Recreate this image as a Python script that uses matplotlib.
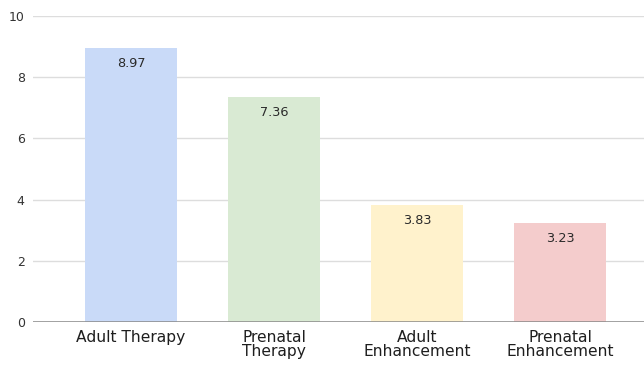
import matplotlib
matplotlib.use("Agg")
import matplotlib.pyplot as plt

categories = ["Adult Therapy", "Prenatal\nTherapy", "Adult\nEnhancement", "Prenatal\nEnhancement"]
values = [8.97, 7.36, 3.83, 3.23]
colors = ["#c9daf8", "#d9ead3", "#fff2cc", "#f4cccc"]
yticks = [0, 2, 4, 6, 8, 10]

plt.rcParams["font.family"] = ["DejaVu Sans"]

fig = plt.figure(figsize=(6.44, 3.67), dpi=100)
ax = fig.add_axes([0.0512, 0.1226, 0.9705, 0.8337])

x = list(range(len(categories)))
bars = ax.bar(x, values, width=0.645, color=colors, zorder=2)

for xi, v in zip(x, values):
    ax.annotate(f"{v:.2f}", (xi, v), xytext=(0, -6.5), textcoords="offset points",
                ha="center", va="top", fontsize=9.3, color="#2a2a2a", zorder=3)

ax.set_xlim(-0.685, 3.685)
ax.set_ylim(0, 10)
ax.set_yticks(yticks)
ax.set_yticklabels([str(t) for t in yticks], fontsize=9, color="#333333")
ax.set_xticks(x)
ax.set_xticklabels(categories, fontsize=11.2, color="#1e1e1e", linespacing=0.88)

ax.grid(axis="y", color="#dddddd", linewidth=1, zorder=0)
ax.axhline(0, color="#888888", linewidth=1.8, zorder=3)
for s in ax.spines.values():
    s.set_visible(False)
ax.tick_params(axis="both", length=0)
ax.tick_params(axis="y", pad=6)
ax.tick_params(axis="x", pad=6)

fig.savefig("out.png", dpi=100)
